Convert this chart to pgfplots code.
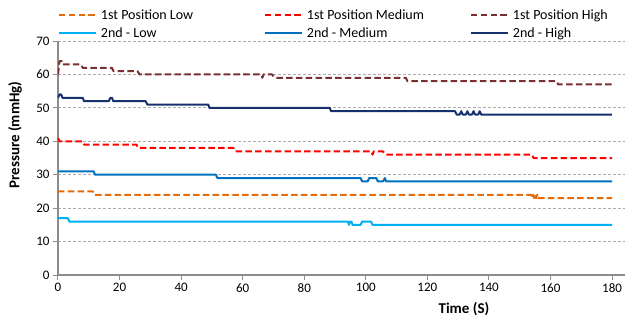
\documentclass[border=0pt]{standalone}
\usepackage{pgfplots}
\pgfplotsset{compat=1.18}
\usepackage{fontspec}
\setmainfont{Carlito}
\definecolor{cLow}{HTML}{E46C0A}
\definecolor{cMed}{HTML}{FF0000}
\definecolor{cHigh}{HTML}{7A3030}
\definecolor{dLow}{HTML}{00B0F0}
\definecolor{dMed}{HTML}{0070C0}
\definecolor{dHigh}{HTML}{17306E}
\newcommand{\legbox}[1]{\makebox[159pt][l]{#1}}
\begin{document}
\begin{tikzpicture}
\useasboundingbox (-58pt,-47pt) rectangle (567pt,275pt);
\begin{axis}[
  scale only axis, width=567pt, height=234pt,
  xmin=0, xmax=184.2, ymin=0, ymax=70,
  axis lines*=left,
  axis line style={draw=gray!90, line width=1.6pt, -},
  xtick={0,20,...,180}, ytick={0,10,...,70},
  tick align=outside, major tick length=5pt,
  tick style={draw=gray!90, line width=1pt},
  ymajorgrids,
  grid style={draw=gray!65, line width=0.9pt, dash pattern=on 3pt off 2pt},
  ticklabel style={font=\fontsize{13}{15}\selectfont},
  /pgf/number format/assume math mode=true,
  xlabel={\bfseries Time (S)}, ylabel={\bfseries Pressure (mmHg)},
  label style={font=\fontsize{15}{17}\selectfont},
  xlabel style={at={(axis description cs:0.716,-0.145)}, anchor=center},
  ylabel style={at={(axis description cs:-0.0758,0.598)}, anchor=center},
  legend columns=3,
  legend style={draw=none, fill=none, inner sep=0pt, outer sep=0pt,
    at={(axis description cs:0,1.1496)}, anchor=north west,
    font=\fontsize{14}{16}\selectfont,
    nodes={inner xsep=4pt, inner ysep=2pt, text height=11pt, text depth=3pt},
    column sep=0pt, row sep=0pt},
  legend cell align=left,
  legend image code/.code={\draw[#1] (0pt,0pt) -- (37pt,0pt);},
  every axis plot/.append style={line width=2pt, line join=round},
]
\addplot[cLow, dash pattern=on 6.5pt off 3.3pt] coordinates {
(0,25)(11.3,25)(11.8,24)(153.8,24)(154,23)(154.3,24)(154.7,23)(155,24)(155.3,23)(155.7,24)(156,23)(180,23)};
\addlegendentry{\legbox{1st Position Low}}
\addplot[cMed, dash pattern=on 6.5pt off 3.3pt] coordinates {
(0,41)(0.5,40)(8,40)(8.5,39)(25.5,39)(26,38)(57,38)(57.5,37)(101.8,37)(102.2,36)(102.6,37)(105.5,37)(106.5,36)(154,36)(154.5,35)(180,35)};
\addlegendentry{\legbox{1st Position Medium}}
\addplot[cHigh, dash pattern=on 6.5pt off 3.3pt] coordinates {
(0,60)(0.5,64)(1.2,64)(1.5,63)(7.5,63)(8,62)(17.5,62)(18,61)(25.8,61)(26.5,60)(66,60)(66.4,59)(66.8,60)(69.5,60)(70.5,59)(113,59)(113.5,58)(162,58)(162.5,57)(180,57)};
\addlegendentry{\legbox{1st Position High}}
\addplot[dLow] coordinates {
(0,17)(3.2,17)(3.7,16)(94.2,16)(94.5,15)(94.9,16)(95.3,16)(95.7,15)(98.3,15)(98.8,16)(101.7,16)(102.2,15)(180,15)};
\addlegendentry{\legbox{2nd - Low}}
\addplot[dMed] coordinates {
(0,31)(11.6,31)(12,30)(51.3,30)(51.8,29)(98.3,29)(98.8,28)(100.6,28)(101.1,29)(103.4,29)(103.9,28)(105.6,28)(106.2,29)(106.6,28)(180,28)};
\addlegendentry{\legbox{2nd - Medium}}
\addplot[dHigh] coordinates {
(0,53)(0.5,54)(1,54)(1.5,53)(8,53)(8.5,52)(16.5,52)(17,53)(17.5,53)(18,52)(28.5,52)(29,51)(48.8,51)(49.2,50)(88.3,50)(88.7,49)(129,49)(129.5,48)(130.5,48)(131,49)(131.5,48)(132.5,48)(133,49)(133.5,48)(134.5,48)(135,49)(135.5,48)(136.5,48)(137,49)(137.5,48)(180,48)};
\addlegendentry{\legbox{2nd - High}}
\end{axis}
\end{tikzpicture}
\end{document}
